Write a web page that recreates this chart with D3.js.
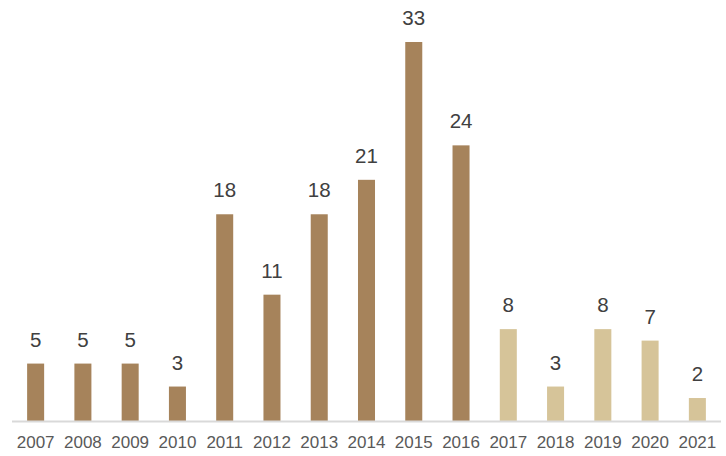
<!DOCTYPE html>
<html>
<head>
<meta charset="utf-8">
<script src="https://cdn.jsdelivr.net/npm/d3@7"></script>
<style>
  body { margin: 0; background: #fff; }
  text { font-family: "Liberation Sans", Arial, sans-serif; }
</style>
</head>
<body>
<div id="chart"></div>
<script>
// chart data
var years = ["2007", "2008", "2009", "2010", "2011", "2012", "2013", "2014",
             "2015", "2016", "2017", "2018", "2019", "2020", "2021"];
var counts = [5, 5, 5, 3, 18, 11, 18, 21, 33, 24, 8, 3, 8, 7, 2];
var lightFrom = "2017"; // years from here on use the light colour

var width = 726, height = 456;
var base = 421;

var svg = d3.select("#chart").append("svg")
  .attr("width", width)
  .attr("height", height);

var x = d3.scaleBand()
  .domain(years)
  .range([12, 721])
  .paddingInner(0.64)
  .paddingOuter(0.32);

var y = d3.scaleLinear()
  .domain([0, 33])
  .range([base, 42]);

var data = years.map(function(d, i) { return {year: d, value: counts[i]}; });

// bars
svg.selectAll("rect.bar")
  .data(data)
  .enter().append("rect")
  .attr("class", "bar")
  .attr("x", function(d) { return x(d.year); })
  .attr("y", function(d) { return y(d.value); })
  .attr("width", x.bandwidth())
  .attr("height", function(d) { return base - y(d.value); })
  .style("fill", function(d) { return d.year >= lightFrom ? "#d6c499" : "#a6835b"; });

// value labels
svg.selectAll("text.value")
  .data(data)
  .enter().append("text")
  .attr("class", "value")
  .attr("x", function(d) { return x(d.year) + x.bandwidth() / 2; })
  .attr("y", function(d) { return y(d.value) - 17; })
  .attr("text-anchor", "middle")
  .style("font-size", "20.5px")
  .style("fill", "#404040")
  .text(function(d) { return d.value; });

// baseline
svg.append("line")
  .attr("x1", 12).attr("x2", 721)
  .attr("y1", base + 0.5).attr("y2", base + 0.5)
  .style("stroke", "#d9d9d9")
  .style("stroke-width", 2);

// year labels
var xAxis = svg.append("g")
  .attr("transform", "translate(0," + base + ")")
  .call(d3.axisBottom(x).tickSize(0).tickPadding(15));
xAxis.select(".domain").remove();
xAxis.selectAll("text")
  .style("font-size", "17px")
  .style("font-family", "'Liberation Sans', Arial, sans-serif")
  .style("fill", "#595959");
</script>
</body>
</html>
